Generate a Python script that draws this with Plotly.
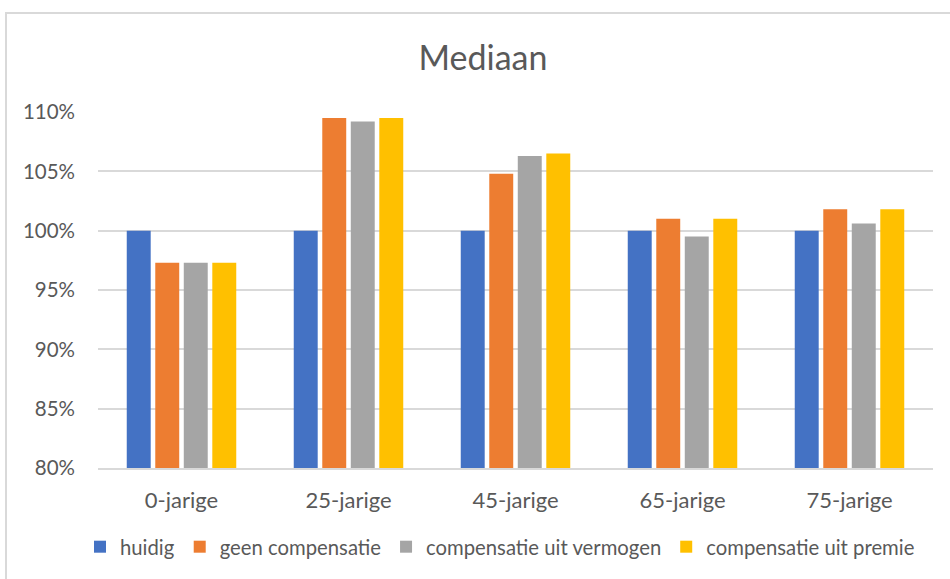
import plotly.graph_objects as go

categories = ["0-jarige", "25-jarige", "45-jarige", "65-jarige", "75-jarige"]
huidig = [1.000, 1.000, 1.000, 1.000, 1.000]
geen_compensatie = [0.973, 1.095, 1.048, 1.010, 1.018]
compensatie_uit_vermogen = [0.973, 1.092, 1.063, 0.995, 1.006]
compensatie_uit_premie = [0.973, 1.095, 1.065, 1.010, 1.018]

series = [
    ("huidig", huidig, "#4472C4"),
    ("geen compensatie", geen_compensatie, "#ED7D31"),
    ("compensatie uit vermogen", compensatie_uit_vermogen, "#A5A5A5"),
    ("compensatie uit premie", compensatie_uit_premie, "#FFC000"),
]

FONT = "Lato"
TXT = "#595959"

fig = go.Figure()
for name, vals, col in series:
    fig.add_trace(go.Bar(x=categories, y=vals, name=name,
                         marker=dict(color=col, line=dict(width=0))))

W, H = 950, 579
L, R, T, B = 98, 17, 112, 111
pw, ph = W - L - R, H - T - B

def px(x):
    return (x - L) / pw

def py(y):
    return (H - B - y) / ph

fig.update_layout(
    width=W, height=H,
    margin=dict(l=L, r=R, t=T, b=B, pad=0, autoexpand=False),
    paper_bgcolor="white", plot_bgcolor="white",
    font=dict(family=FONT, color=TXT, size=20),
    barmode="group", bargap=0.317, bargroupgap=0.16,
    title=dict(text="Mediaan", font=dict(family=FONT, size=34, color=TXT),
               x=483 / W, xanchor="center", xref="container",
               y=1 - 58 / H, yanchor="middle", yref="container"),
    legend=dict(orientation="h", x=px(500), xanchor="center", xref="paper",
                y=py(547), yanchor="middle", yref="paper",
                font=dict(family=FONT, size=20.3, color=TXT),
                itemclick=False, traceorder="normal"),
    xaxis=dict(showgrid=False, showline=True, linecolor="#D9D9D9", linewidth=1.5,
               ticks="", ticklabelstandoff=12,
               tickfont=dict(family=FONT, size=22, color=TXT)),
    yaxis=dict(range=[0.8, 1.1], dtick=0.05, tick0=0.8, tickformat=".0%",
               showgrid=True, gridcolor="#D9D9D9", gridwidth=1.5,
               zeroline=False, showline=False, ticks="",
               ticklabelstandoff=22,
               tickfont=dict(family=FONT, size=20.5, color=TXT)),
    shapes=[dict(type="rect", xref="paper", yref="paper",
                 x0=px(6), x1=px(960), y0=py(600), y1=py(13),
                 line=dict(color="#D9D9D9", width=2), fillcolor="rgba(0,0,0,0)",
                 layer="below")],
)

fig.write_html("out.html")
